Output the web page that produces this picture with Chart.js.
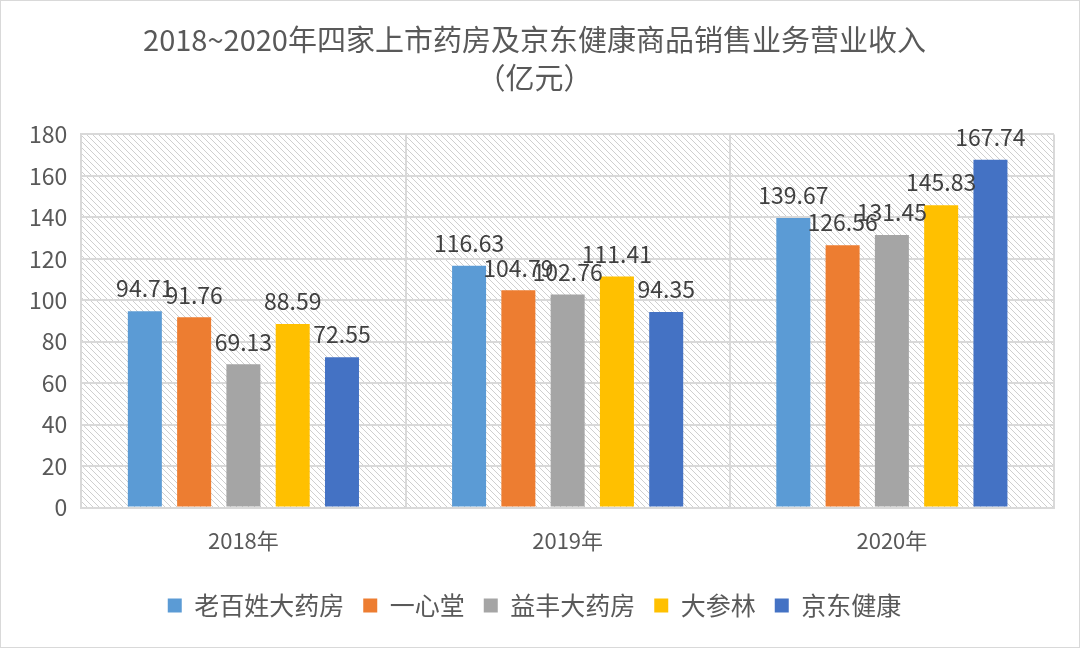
<!DOCTYPE html>
<html>
<head>
<meta charset="utf-8">
<script src="https://cdn.jsdelivr.net/npm/chart.js@4"></script>
<style>
  html, body { margin: 0; padding: 0; background: #fff; }
  #wrap { width: 1078px; height: 646px; border: 1px solid #d9d9d9; }
</style>
</head>
<body>
<div id="wrap"><canvas id="salesChart" width="1078" height="646"></canvas></div>
<script>
// 数据
const years = ['2018年', '2019年', '2020年']
const seriesNames = ['老百姓大药房', '一心堂', '益丰大药房', '大参林', '京东健康']
const laobaixing = [94.71, 116.63, 139.67]
const yixintang = [91.76, 104.79, 126.56]
const yifeng = [69.13, 102.76, 131.45]
const dashenlin = [88.59, 111.41, 145.83]
const jdHealth = [72.55, 94.35, 167.74]
const colors = ['#5B9BD5', '#ED7D31', '#A5A5A5', '#FFC000', '#4472C4']

const FONT = '"Noto Sans CJK SC", "Noto Sans", sans-serif'

// 斜线底纹
const makeHatch = () => {
    const c = document.createElement('canvas')
    c.width = 6
    c.height = 6
    const g = c.getContext('2d')
    g.strokeStyle = '#cfcfcf'
    g.lineWidth = 1
    g.beginPath()
    g.moveTo(0, 0); g.lineTo(6, 6)
    g.moveTo(-3, 3); g.lineTo(3, 9)
    g.moveTo(3, -3); g.lineTo(9, 3)
    g.stroke()
    return g.createPattern(c, 'repeat')
}

const hatchBg = {
    id: 'hatchBg',
    beforeDraw(chart) {
        const { ctx, chartArea: a } = chart
        ctx.save()
        ctx.fillStyle = makeHatch()
        ctx.fillRect(a.left, a.top, a.right - a.left, a.bottom - a.top)
        ctx.restore()
    }
}

// 数值标签
const valueLabels = {
    id: 'valueLabels',
    afterDatasetsDraw(chart) {
        const ctx = chart.ctx
        ctx.save()
        ctx.font = '23px ' + FONT
        ctx.fillStyle = '#404040'
        ctx.textAlign = 'center'
        ctx.textBaseline = 'bottom'
        chart.data.datasets.forEach((ds, i) => {
            chart.getDatasetMeta(i).data.forEach((bar, j) => {
                ctx.fillText(ds.data[j].toFixed(2), bar.x, bar.y - 11)
            })
        })
        ctx.restore()
    }
}

const seriesData = [laobaixing, yixintang, yifeng, dashenlin, jdHealth]

new Chart(document.getElementById('salesChart').getContext('2d'), {
    type: 'bar',
    data: {
        labels: years,
        datasets: seriesNames.map((name, i) => ({
            label: name,
            data: seriesData[i],
            backgroundColor: colors[i],
            categoryPercentage: 0.76,
            barPercentage: 0.69
        }))
    },
    options: {
        responsive: false,
        animation: false,
        layout: { padding: { left: 14, right: 25, top: 0, bottom: 19 } },
        scales: {
            x: {
                grid: { offset: true, color: '#d9d9d9', lineWidth: 2, drawTicks: false },
                border: { color: '#d9d9d9', width: 2 },
                ticks: { color: '#595959', font: { size: 22, family: FONT }, padding: 20 }
            },
            y: {
                min: 0,
                max: 180,
                ticks: { stepSize: 20, color: '#595959', font: { size: 23, family: FONT }, padding: 14 },
                grid: { color: '#d9d9d9', lineWidth: 2, drawTicks: false },
                border: { color: '#d9d9d9', width: 2 }
            }
        },
        plugins: {
            title: {
                display: true,
                text: ['2018~2020年四家上市药房及京东健康商品销售业务营业收入', '（亿元）'],
                color: '#595959',
                font: { size: 29, family: FONT, weight: 'normal', lineHeight: 1.3 },
                padding: { top: 20, bottom: 38 }
            },
            legend: {
                position: 'bottom',
                labels: {
                    color: '#595959',
                    font: { size: 25, family: FONT },
                    boxWidth: 14,
                    boxHeight: 14,
                    padding: 19
                }
            },
            tooltip: { enabled: false }
        }
    },
    plugins: [hatchBg, valueLabels]
})
</script>
</body>
</html>
